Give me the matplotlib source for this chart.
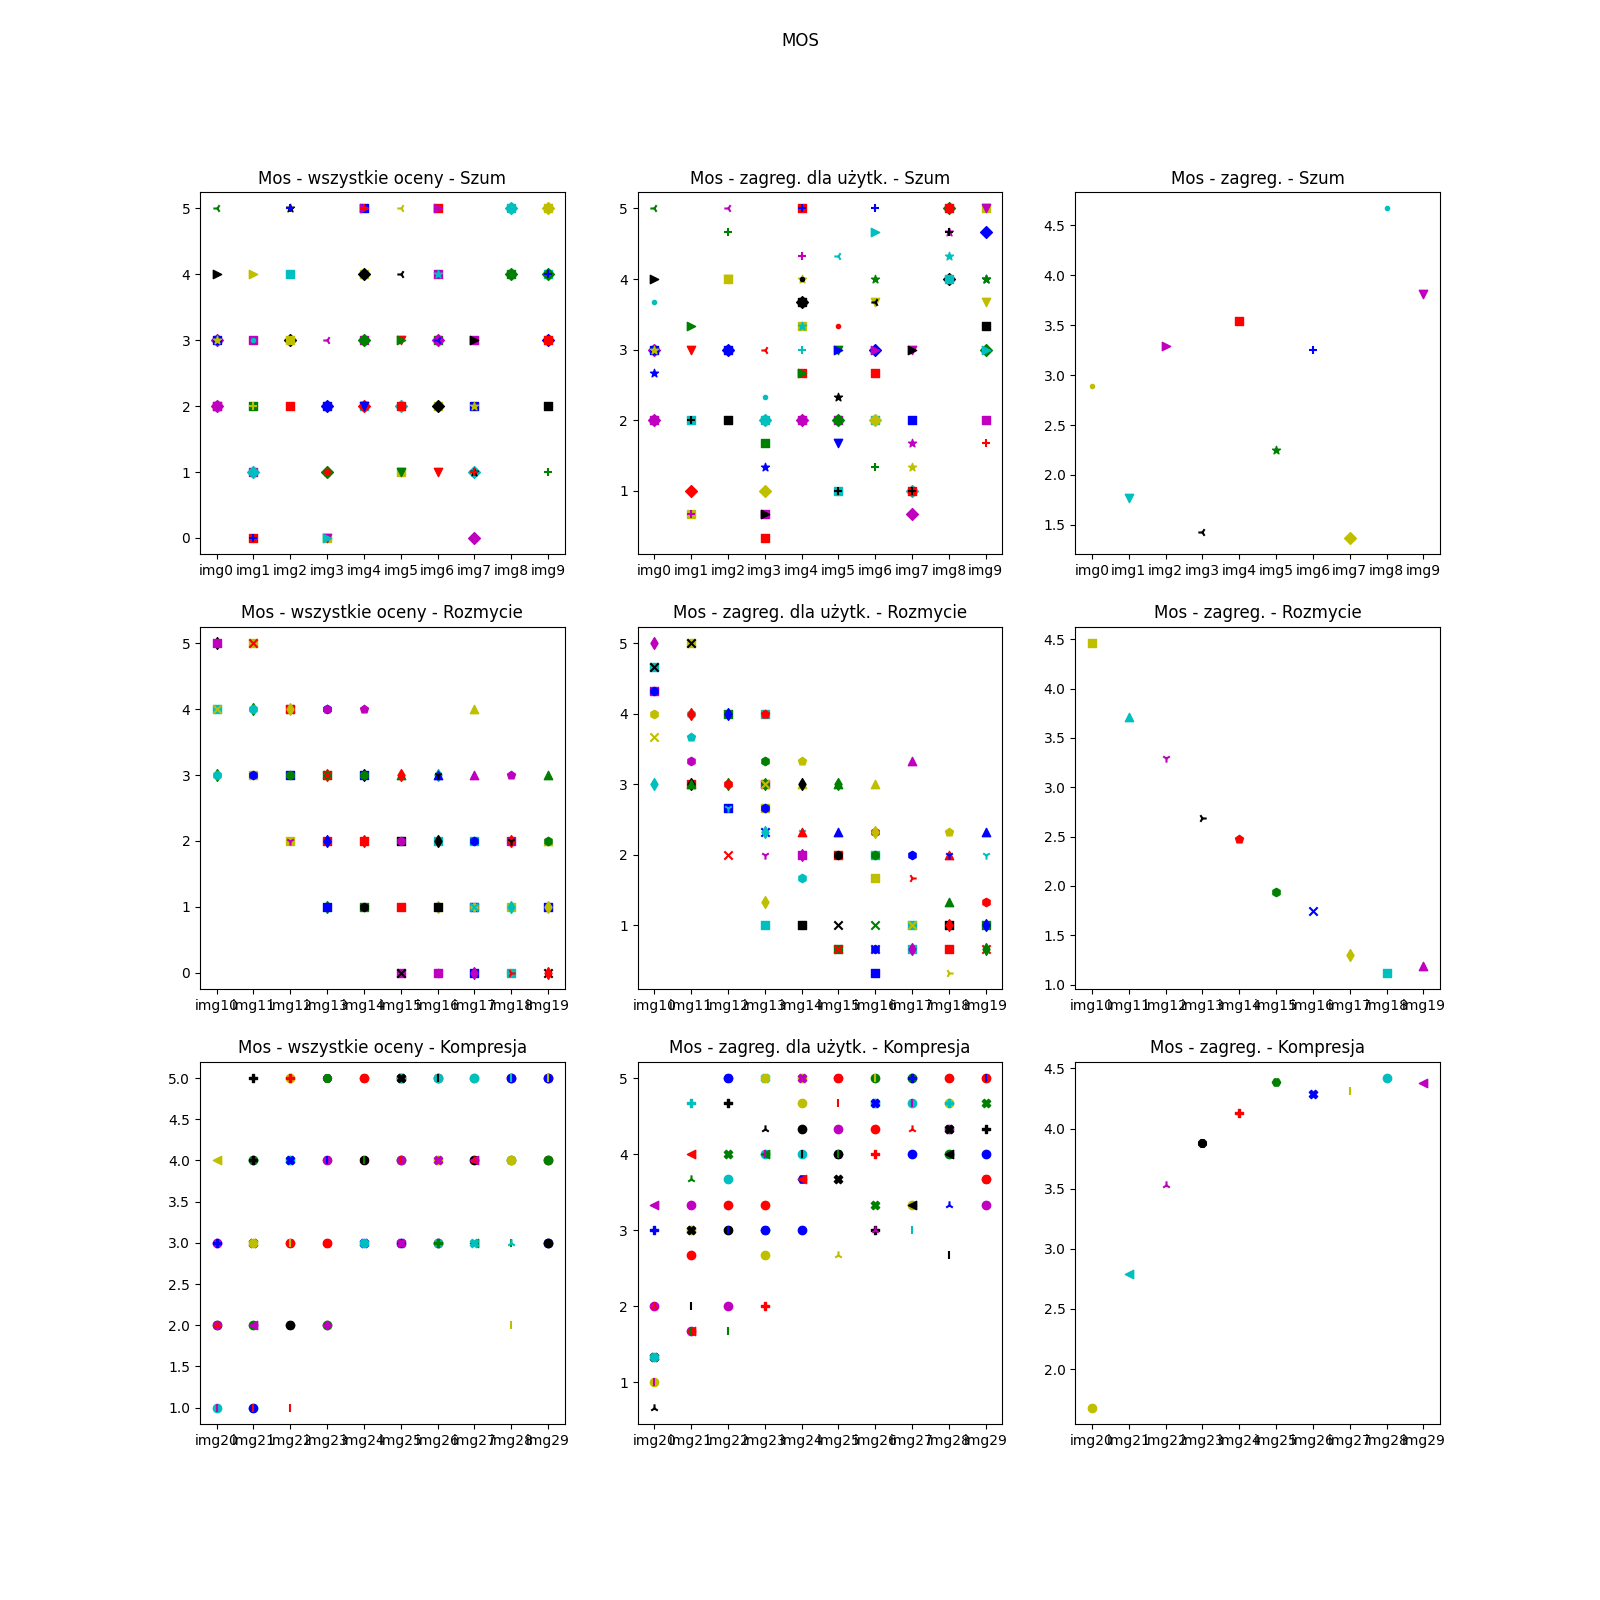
import matplotlib
matplotlib.use("Agg")
import matplotlib.pyplot as plt

# image labels
szum_labels = ["img0", "img1", "img2", "img3", "img4", "img5", "img6", "img7", "img8", "img9"]
rozm_labels = ["img10", "img11", "img12", "img13", "img14", "img15", "img16", "img17", "img18", "img19"]
komp_labels = ["img20", "img21", "img22", "img23", "img24", "img25", "img26", "img27", "img28", "img29"]

# --- Szum: all ratings (values per image, drawn bottom->top)
szum_all_vals = [
    [5, 4, 3, 3, 3, 2, 2, 2],
    [4, 3, 3, 2, 2, 1, 1, 0, 0],
    [5, 5, 4, 3, 3, 2],
    [3, 2, 2, 1, 1, 0, 0, 0],
    [5, 5, 5, 4, 4, 3, 3, 2, 2, 2],
    [5, 4, 3, 3, 2, 2, 1, 1],
    [5, 5, 4, 4, 3, 3, 3, 2, 2, 1],
    [3, 3, 2, 2, 1, 1, 1, 0],
    [5, 5, 4, 4],
    [5, 5, 4, 4, 4, 3, 3, 2, 1],
]
szum_all_mk = ["3>Ds*sDs", ">s.s+sDs+", "*+sDss", "3DsD*sv>", "s>+sDsDsDv",
               "33v>Dssv", "s>s*sD3sDv", "s>s*D*+D", "DsDs", "DssD+Dss+"]
szum_all_col = ["gkmbyrmm", "ymcgymcrb", "kbckyr", "mbbgrymc", "bmrykmgcrb",
                "ykrgcryg", "rmmcgmbykr", "mkbyckrm", "ccgg", "yycgbbrkg"]

# --- Szum: aggregated per user
szum_user_vals = [
    [5, 4, 3.67, 3, 3, 3, 2.67, 2, 2],
    [3.33, 3, 2, 2, 1, 0.67, 0.67],
    [5, 4.67, 4, 4, 3, 3, 2],
    [3, 2.33, 2, 2, 1.67, 1.33, 1, 0.67, 0.67, 0.33],
    [5, 5, 4.33, 4, 4, 3.67, 3.67, 3.33, 3.33, 3, 2.67, 2.67, 2, 2],
    [4.33, 3.33, 3, 3, 2.33, 2, 2, 1.67, 1, 1],
    [5, 4.67, 4, 3.67, 3.67, 3, 3, 2.67, 2, 2, 1.33],
    [3, 3, 2, 1.67, 1.33, 1, 1, 1, 0.67],
    [5, 5, 4.67, 4.67, 4.33, 4, 4],
    [5, 5, 4.67, 4, 4, 3.67, 3.33, 3, 3, 2, 1.67],
]
szum_user_mk = ["3>.Ds**Ds", ">vs+Ds+", "3+svsDs", "3.sDs*Ds>s", "s++*.sDs*+s>Ds",
                "3.v>*sDvs+", "+>*v3D>ssD+", "v>s**Ds+D", "Ds*+*Ds", "svD**vsD>s+"]
szum_user_col = ["gkcmbybmm", "grckrym", "mgyybbk", "rcccgbymkr", "rbmykkkyccrgmm",
                 "crgbkmgbck", "bcgykbmrcyg", "mkbmycrkm", "grmkckc", "ymbbgykgcmr"]

# --- Szum: aggregated
szum_mean = [2.89, 1.77, 3.29, 1.43, 3.54, 2.25, 3.25, 1.37, 4.67, 3.81]
szum_mean_mk = [".", "v", ">", "3", "s", "*", "+", "D", ".", "v"]

# --- Rozmycie: all ratings
rozm_all_vals = [
    [5, 5, 4, 4, 3, 3],
    [5, 5, 4, 4, 3, 3],
    [4, 4, 4, 3, 3, 2, 2],
    [4, 4, 3, 3, 3, 2, 2, 1, 1],
    [4, 3, 3, 3, 2, 2, 1, 1],
    [3, 3, 2, 2, 1, 0, 0],
    [3, 3, 3, 2, 2, 1, 1, 0, 0],
    [4, 3, 2, 2, 1, 1, 1, 0, 0],
    [3, 2, 2, 2, 1, 1, 0, 0],
    [3, 2, 2, 1, 1, 0, 0],
]
rozm_all_mk = ["d,,xdh", ",xdh,h", "x,d,h,1", "hpd,x,dd,", "p,dh,d,h",
               "^d,h,,x", "d^1,dd,h,", "^^,h,hx,d", "p,d1,d,4", "^^h,dxd"]
rozm_all_col = ["kmcygc", "yrgcyb", "brybgym", "bmrgrrbgb", "mbkgrrgk",
                "grkmrmk", "cbkckykmm", "ymcbbycbm", "mmrkyccr", "gygbykr"]

# --- Rozmycie: aggregated per user
rozm_user_vals = [
    [5, 4.67, 4.67, 4.33, 4.33, 4, 3.67, 3],
    [5, 5, 4, 4, 3.67, 3.33, 3, 3, 3],
    [4, 4, 3, 3, 2.67, 2.67, 2],
    [4, 4, 3.33, 3, 3, 3, 2.67, 2.67, 2.33, 2.33, 2, 1.33, 1],
    [3.33, 3, 3, 2.33, 2.33, 2, 2, 1.67, 1],
    [3, 3, 2.33, 2, 2, 1, 0.67, 0.67],
    [3, 2.33, 2.33, 2, 2, 1.67, 1, 0.67, 0.67, 0.33],
    [3.33, 2, 1.67, 1, 1, 0.67, 0.67],
    [2.33, 2, 2, 1.33, 1, 1, 0.67, 0.33],
    [2.33, 2, 1.33, 1, 1, 0.67, 0.67],
]
rozm_user_mk = ["d,x,hhxd", ",xhdph,d^", ",ddh,1x", ",ph,dx,hxd1d,", "p^d1^,dh,",
                "^d^,hx,x", "^hd,h,xxh,", "^h4,x,d", "p^1^,d,4", "^1h,dxd"]
rozm_user_col = ["mckmbyyc", "ykcrcmrkg", "gbgrbcr", "crgmgyybbcmyc", "yykcrmmck",
                 "ggbrkkgr", "yrycgygbbb", "mbrcycm", "yrbgkrry", "bcrgbrg"]

# --- Rozmycie: aggregated
rozm_mean = [4.46, 3.71, 3.30, 2.69, 2.48, 1.94, 1.75, 1.30, 1.12, 1.19]
rozm_mean_mk = [",", "^", "1", "4", "p", "h", "x", "d", ",", "^"]

# --- Kompresja: all ratings
komp_all_vals = [
    [4, 3, 3, 2, 2, 2, 1, 1],
    [5, 4, 4, 4, 3, 3, 2, 2, 1, 1, 1],
    [5, 5, 4, 4, 3, 3, 3, 2, 2, 1],
    [5, 5, 4, 4, 4, 3, 3, 2, 2],
    [5, 5, 4, 4, 4, 3, 3],
    [5, 5, 5, 4, 4, 4, 3, 3],
    [5, 5, 5, 4, 4, 3, 3, 3],
    [5, 5, 4, 4, 4, 3, 3],
    [5, 5, 5, 4, 4, 3, 3, 2],
    [5, 5, 5, 4, 4, 3, 3],
]
komp_all_mk = ["<oPo82o|", "PHoPXoo<Ho|", "oPoXHo|Ho|", "H8Ho|o8oP", "Hoo8|Xo",
               "ooXoo|oX", "oo|oXooP", "ooo<2<X", "oo|oo|2|", "oo|oooo"]
komp_all_col = ["ymbkmrcm", "kcgkbygmcbr", "yrcbmrygkr", "mgymbrrgm", "grrkgbc",
                "rckgmrbm", "rckymmcg", "yckmrgc", "mbcgygcy", "rbyrgbk"]

# --- Kompresja: aggregated per user
komp_user_vals = [
    [3.33, 3, 2, 2, 1.33, 1.33, 1, 1, 0.67],
    [4.67, 4, 3.67, 3.33, 3, 3, 2.67, 2, 1.67, 1.67, 1.67],
    [5, 5, 4.67, 4, 3.67, 3.33, 3, 3, 2, 1.67],
    [5, 5, 4.33, 4, 4, 4, 3.33, 3, 3, 2.67, 2],
    [5, 5, 4.67, 4.33, 4, 4, 3.67, 3.67, 3],
    [5, 5, 4.67, 4.33, 4, 4, 4, 3.67, 2.67],
    [5, 5, 4.67, 4.67, 4.33, 4, 3.33, 3, 3],
    [5, 5, 4.67, 4.67, 4.33, 4, 3.33, 3.33, 3],
    [5, 4.67, 4.67, 4.33, 4.33, 4, 4, 3.33, 2.67],
    [5, 5, 5, 4.67, 4.33, 4, 3.67, 3.67, 3.33],
]
komp_user_mk = ["<Po2Xoo|2", "P<2ooXo|o<|", "HoPXooo|o|", "Xo2o<|oHooP", "oXooo|H<o",
                "Ho|oHo|X2", "o|oXoPXP2", "oPo|2oo<|", "ooPoXo<2|", "Ho|XPoHoo"]
komp_user_col = ["mbmrkcymk", "crgmykrkmrg", "bbkgcrkbmg", "cykcgmrbbyr", "ymykckbrb",
                 "mrrmbkgky", "gycbrrgkm", "gbcmrbykc", "rycmkgkbk", "yrbgkbgrm"]

# --- Kompresja: aggregated
komp_mean = [1.68, 2.79, 3.53, 3.88, 4.13, 4.39, 4.29, 4.31, 4.42, 4.38]
komp_mean_mk = ["o", "<", "2", "8", "P", "H", "X", "|", "o", "<"]

mean_col = ["y", "c", "m", "k", "r", "g", "b", "y", "c", "m"]


def draw_layers(ax, vals, mks, cols, labels, title):
    for i in range(len(labels)):
        for v, m, c in zip(vals[i], mks[i], cols[i]):
            ax.scatter(i, v, marker=m, color=c)
    ax.set_xticks(range(len(labels)), labels)
    ax.set_title(title)


def draw_mean(ax, vals, mks, labels, title):
    for i in range(len(labels)):
        ax.scatter(i, vals[i], marker=mks[i], color=mean_col[i])
    ax.set_xticks(range(len(labels)), labels)
    ax.set_title(title)


fig, axs = plt.subplots(3, 3, figsize=(16, 16))
fig.suptitle("MOS")

draw_layers(axs[0, 0], szum_all_vals, szum_all_mk, szum_all_col, szum_labels, "Mos - wszystkie oceny - Szum")
draw_layers(axs[0, 1], szum_user_vals, szum_user_mk, szum_user_col, szum_labels, "Mos - zagreg. dla użytk. - Szum")
draw_mean(axs[0, 2], szum_mean, szum_mean_mk, szum_labels, "Mos - zagreg. - Szum")

draw_layers(axs[1, 0], rozm_all_vals, rozm_all_mk, rozm_all_col, rozm_labels, "Mos - wszystkie oceny - Rozmycie")
draw_layers(axs[1, 1], rozm_user_vals, rozm_user_mk, rozm_user_col, rozm_labels, "Mos - zagreg. dla użytk. - Rozmycie")
draw_mean(axs[1, 2], rozm_mean, rozm_mean_mk, rozm_labels, "Mos - zagreg. - Rozmycie")

draw_layers(axs[2, 0], komp_all_vals, komp_all_mk, komp_all_col, komp_labels, "Mos - wszystkie oceny - Kompresja")
draw_layers(axs[2, 1], komp_user_vals, komp_user_mk, komp_user_col, komp_labels, "Mos - zagreg. dla użytk. - Kompresja")
draw_mean(axs[2, 2], komp_mean, komp_mean_mk, komp_labels, "Mos - zagreg. - Kompresja")

fig.savefig("out.png", dpi=100)
